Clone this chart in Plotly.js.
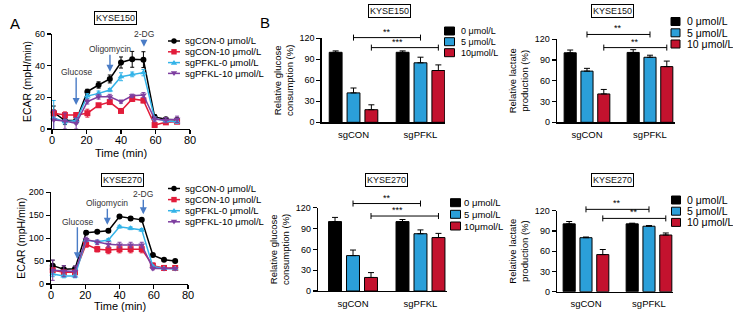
<!DOCTYPE html>
<html><head><meta charset="utf-8">
<script src="https://cdn.plot.ly/plotly-3.0.1.min.js"></script>
<style>html,body{margin:0;padding:0;background:#fff}#chart{width:733px;height:312px}</style>
</head><body><div id="chart"></div>
<script>
// ---------- DATA ----------
const timeMin = [1, 7.5, 14, 20.5, 27, 33.5, 40, 46.5, 53, 59.5, 66, 72.5];
const lineSeriesNames = ['sgCON-0 μmol/L', 'sgCON-10 μmol/L', 'sgPFKL-0 μmol/L', 'sgPFKL-10 μmol/L'];

// KYSE150 ECAR (mpH/min)
const k150_sgCON0   = [10.5, 5.3, 5.3, 23.6, 27.8, 31.6, 42.0, 44.0, 43.8, 7.6, 6.1, 5.7];
const k150_sgCON0e  = [4, 2.5, 2, 1.5, 2, 2.5, 3.5, 5, 5, 1.5, 1, 1];
const k150_sgCON10  = [10.0, 8.8, 8.8, 10.0, 15.0, 17.0, 11.4, 19.0, 18.0, 2.5, 4.2, 4.6];
const k150_sgCON10e = [2, 2, 1.5, 2.5, 1, 1.5, 1, 1.5, 1.5, 1, 1, 1];
const k150_sgPFKL0  = [7.0, 4.6, 5.3, 20.8, 22.5, 24.6, 33.0, 34.5, 35.6, 6.7, 5.0, 4.6];
const k150_sgPFKL0e = [11, 1.5, 1.5, 1.5, 1.5, 1, 2.5, 1.5, 2, 1, 1, 1];
const k150_sgPFKL10 = [5.7, 5.0, 3.6, 17.3, 20.4, 20.4, 17.3, 21.0, 21.5, 6.1, 5.7, 6.1];
const k150_sgPFKL10e= [6, 5, 3.6, 1.5, 1.5, 1.5, 1, 1, 1.5, 1.5, 1.5, 2];

// KYSE270 ECAR (mpH/min)
const k270_sgCON0   = [40, 32, 33, 112, 114, 116, 147, 143, 140, 63, 53, 50];
const k270_sgCON0e  = [12, 8, 6, 4, 3, 3, 3, 3, 3, 3, 2, 2];
const k270_sgCON10  = [30, 25.5, 25.5, 86.5, 76, 74, 76, 76, 76, 40, 35, 35];
const k270_sgCON10e = [5, 4, 4, 6, 6, 8, 8, 8, 8, 6, 4, 4];
const k270_sgPFKL0  = [22, 17.5, 17.5, 96, 92, 96, 125, 121.5, 118, 38, 34, 33];
const k270_sgPFKL0e = [6, 4, 4, 3, 3, 3, 3, 3, 3, 3, 2, 2];
const k270_sgPFKL10 = [30, 28, 27, 97, 91, 86.5, 85, 85, 85, 34, 34, 34];
const k270_sgPFKL10e= [22, 12, 12, 5, 5, 6, 6, 6, 6, 3, 2, 2];

// Treatment markers (time, label)
const treatTimes150 = [14, 33.6, 53.3];
const treatTimes270 = [15.4, 32.9, 53.9];
const treatLabels = ['Glucose', 'Oligomycin', '2-DG'];

// Bar charts
const groups = ['sgCON', 'sgPFKL'];
const doseLabelsGlucose = ['0 μmol/L', '5 μmol/L', '10μmol/L'];
const doseLabelsLactate = ['0 μmol/L', '5 μmol/L', '10 μmol/L'];

const glu150_0 = [100, 100],  glu150_0e = [2, 2];
const glu150_5 = [42, 85],    glu150_5e = [7, 8];
const glu150_10 = [18, 74],   glu150_10e = [7, 8];
const lac150_0 = [100.5, 101], lac150_0e = [4, 4];
const lac150_5 = [74, 94],    lac150_5e = [4, 3];
const lac150_10 = [41, 80.5], lac150_10e = [6.5, 8];
const glu270_0 = [100, 100],  glu270_0e = [6, 3];
const glu270_5 = [51, 82.5],  glu270_5e = [8, 5.5];
const glu270_10 = [19.5, 77], glu270_10e = [7, 6];
const lac270_0 = [100.5, 100.5], lac270_0e = [3.5, 1];
const lac270_5 = [80, 97],    lac270_5e = [1, 1];
const lac270_10 = [55, 84],   lac270_10e = [7.5, 3];

// significance labels (5 μmol/L comparison, 10 μmol/L comparison)
const sigGlu150 = ['**', '***'];
const sigLac150 = ['**', '**'];
const sigGlu270 = ['**', '***'];
const sigLac270 = ['**', '**'];

// ---------- STYLE / LAYOUT ----------
const W = 733, H = 312;
const FONT = '"Liberation Sans", Arial, sans-serif';
const px = x => x / W;
const py = y => 1 - y / H;
const lineColors = ['#000000', '#e21c3a', '#33b3e8', '#7e3fa0'];
const lineSymbols = ['circle', 'square', 'triangle-up', 'triangle-down'];
const barColors = ['#000000', '#2b9fd9', '#c3122e'];
const arrowColor = '#4a7cc6';

const traces = [];
const shapes = [];
const annotations = [];

function addLinePanel(xa, ya, series, errs) {
  series.forEach((s, i) => {
    traces.push({
      type: 'scatter', mode: 'lines+markers', x: timeMin, y: s,
      xaxis: xa, yaxis: ya, cliponaxis: false, showlegend: false,
      name: lineSeriesNames[i],
      line: {color: lineColors[i], width: 1.5},
      marker: {color: lineColors[i], symbol: lineSymbols[i], size: 6},
      error_y: {type: 'data', array: errs[i], color: lineColors[i], thickness: 1, width: 2}
    });
  });
}
addLinePanel('x', 'y', [k150_sgCON0, k150_sgCON10, k150_sgPFKL0, k150_sgPFKL10],
  [k150_sgCON0e, k150_sgCON10e, k150_sgPFKL0e, k150_sgPFKL10e]);
addLinePanel('x2', 'y2', [k270_sgCON0, k270_sgCON10, k270_sgPFKL0, k270_sgPFKL10],
  [k270_sgCON0e, k270_sgCON10e, k270_sgPFKL0e, k270_sgPFKL10e]);

// treatment arrows: [tip y, label y] in data units
function addArrows(xa, ya, times, tips, labs) {
  times.forEach((t, i) => {
    annotations.push({
      xref: xa, yref: ya, axref: xa, ayref: ya,
      x: t, y: tips[i], ax: t, ay: labs[i], text: treatLabels[i],
      showarrow: true, arrowhead: 2, arrowsize: 1, arrowwidth: 1.4, arrowcolor: arrowColor,
      font: {family: FONT, size: 8.5, color: '#333'}, borderpad: 0
    });
  });
}
addArrows('x', 'y', treatTimes150, [15.2, 36.2, 52], [36, 50.3, 59.8]);
addArrows('x2', 'y2', treatTimes270, [54, 129, 152], [136, 176, 195.6]);

// bar panels
const BG = 0.2, BGG = 0.28;
const slot = (1 - BG) / 3;
const panels = [
  {xa: 'x3', ya: 'y3', xr: [-0.475, 1.366], hpx: 84, data: [[glu150_0, glu150_0e], [glu150_5, glu150_5e], [glu150_10, glu150_10e]], sig: sigGlu150, sigY: [121, 106.7], names: doseLabelsGlucose},
  {xa: 'x4', ya: 'y4', xr: [-0.476, 1.397], hpx: 83, data: [[lac150_0, lac150_0e], [lac150_5, lac150_5e], [lac150_10, lac150_10e]], sig: sigLac150, sigY: [127, 108], names: doseLabelsLactate},
  {xa: 'x5', ya: 'y5', xr: [-0.519, 1.393], hpx: 83, data: [[glu270_0, glu270_0e], [glu270_5, glu270_5e], [glu270_10, glu270_10e]], sig: sigGlu270, sigY: [126, 108], names: doseLabelsGlucose},
  {xa: 'x6', ya: 'y6', xr: [-0.46, 1.381], hpx: 81, data: [[lac270_0, lac270_0e], [lac270_5, lac270_5e], [lac270_10, lac270_10e]], sig: sigLac270, sigY: [122, 108.6], names: doseLabelsLactate}
];
panels.forEach(p => {
  p.data.forEach((d, i) => {
    traces.push({
      type: 'bar', x: [0, 1], y: d[0], xaxis: p.xa, yaxis: p.ya, showlegend: false,
      name: p.names[i],
      marker: {color: barColors[i], line: {color: '#000', width: 1}},
      error_y: {type: 'data', symmetric: false, array: d[1], arrayminus: d[1].map(() => 0), color: '#000', thickness: 1, width: 3}
    });
  });
  const fx = v => (v - p.xr[0]) / (p.xr[1] - p.xr[0]);
  const fy = v => v / 120;
  const cap = 3 / p.hpx;
  const xd = p.xa + ' domain', yd = p.ya + ' domain';
  p.sig.forEach((lab, k) => {
    const off = k === 0 ? 0 : slot;
    const x0 = fx(0 + off), x1 = fx(1 + off), y = fy(p.sigY[k]);
    shapes.push({type: 'line', xref: xd, yref: yd, x0: x0, x1: x1, y0: y, y1: y, line: {color: '#000', width: 1}});
    shapes.push({type: 'line', xref: xd, yref: yd, x0: x0, x1: x0, y0: y - cap, y1: y + cap, line: {color: '#000', width: 1}});
    shapes.push({type: 'line', xref: xd, yref: yd, x0: x1, x1: x1, y0: y - cap, y1: y + cap, line: {color: '#000', width: 1}});
    annotations.push({xref: xd, yref: yd, x: (x0 + x1) / 2, y: y, yanchor: 'bottom', yshift: -1,
      text: lab, showarrow: false, font: {family: FONT, size: 9, color: '#000'}});
  });
});

// ---------- manual legends ----------
function lineLegend(x0, yList) {
  lineSeriesNames.forEach((n, i) => {
    const y = yList[i], c = lineColors[i];
    shapes.push({type: 'line', xref: 'paper', yref: 'paper', x0: px(x0), x1: px(x0 + 12), y0: py(y), y1: py(y), line: {color: c, width: 1.5}});
    const mx = x0 + 6, r = 2.7;
    if (i === 0) shapes.push({type: 'circle', xref: 'paper', yref: 'paper', x0: px(mx - r), x1: px(mx + r), y0: py(y - r), y1: py(y + r), fillcolor: c, line: {width: 0}});
    else if (i === 1) shapes.push({type: 'rect', xref: 'paper', yref: 'paper', x0: px(mx - r), x1: px(mx + r), y0: py(y - r), y1: py(y + r), fillcolor: c, line: {width: 0}});
    else {
      const d = i === 2 ? -1 : 1;
      shapes.push({type: 'path', xref: 'paper', yref: 'paper', fillcolor: c, line: {width: 0},
        path: `M${px(mx - r - 0.5)},${py(y - d * r * 0.8)} L${px(mx + r + 0.5)},${py(y - d * r * 0.8)} L${px(mx)},${py(y + d * r)} Z`});
    }
    annotations.push({xref: 'paper', yref: 'paper', x: px(x0 + 14.5), y: py(y), xanchor: 'left', yanchor: 'middle',
      text: n, showarrow: false, font: {family: FONT, size: 9.5, color: '#000'}});
  });
}
lineLegend(168, [41, 51.8, 62.6, 73.4]);
lineLegend(168, [188.5, 199.6, 210.7, 221.8]);

function barLegend(x0, sw, yList, labels, tx, fs) {
  labels.forEach((n, i) => {
    const y = yList[i];
    shapes.push({type: 'rect', xref: 'paper', yref: 'paper', x0: px(x0), x1: px(x0 + sw), y0: py(y - 4), y1: py(y + 4),
      fillcolor: barColors[i], line: {color: '#000', width: 1}});
    annotations.push({xref: 'paper', yref: 'paper', x: px(tx), y: py(y), xanchor: 'left', yanchor: 'middle',
      text: n, showarrow: false, borderpad: 0, font: {family: FONT, size: fs, color: '#000'}});
  });
}
barLegend(444.5, 10, [31, 41.7, 52.7], doseLabelsGlucose, 459.5, 9);
barLegend(671, 9, [21.5, 32.8, 44], doseLabelsLactate, 686, 10.5);
barLegend(450.5, 10, [202.7, 214.3, 226], doseLabelsGlucose, 462.5, 9.5);
barLegend(671.5, 9, [200, 211.2, 222.4], doseLabelsLactate, 686, 10.5);

// title boxes and panel letters
function box(text, cx, cy) {
  annotations.push({xref: 'paper', yref: 'paper', x: px(cx), y: py(cy), xanchor: 'center', yanchor: 'middle',
    text: text, showarrow: false, bordercolor: '#000', borderwidth: 1, borderpad: 1, bgcolor: '#fff',
    font: {family: FONT, size: 9, color: '#111'}});
}
box('KYSE150', 115, 17.7);
box('KYSE270', 122.5, 180.3);
box('KYSE150', 389.5, 10.7);
box('KYSE150', 612.5, 11);
box('KYSE270', 386, 180);
box('KYSE270', 612.5, 180);
annotations.push({xref: 'paper', yref: 'paper', x: px(8), y: py(13), text: 'A', showarrow: false,
  font: {family: FONT, size: 15, color: '#000'}});
annotations.push({xref: 'paper', yref: 'paper', x: px(265), y: py(12.5), text: 'B', showarrow: false,
  font: {family: FONT, size: 15, color: '#000'}});

// x-axis titles of the ECAR panels (placed just under the tick labels)
annotations.push({xref: 'x domain', yref: 'paper', x: 0.5, y: py(152.5), yanchor: 'middle', text: 'Time (min)',
  showarrow: false, borderpad: 0, font: {family: FONT, size: 11, color: '#000'}});
annotations.push({xref: 'x2 domain', yref: 'paper', x: 0.5, y: py(305.8), yanchor: 'middle', text: 'Time (min)',
  showarrow: false, borderpad: 0, font: {family: FONT, size: 11, color: '#000'}});

// axes
const axBase = {showline: true, linecolor: '#000', linewidth: 1.3, showgrid: false, zeroline: false,
  ticks: 'outside', ticklen: 4, tickwidth: 1.3, tickcolor: '#000', fixedrange: true};
function lineX(dom, anchor) {
  return Object.assign({}, axBase, {domain: dom, anchor: anchor, range: [0, 80], tickvals: [0, 20, 40, 60, 80],
    ticklabelstandoff: -4, tickfont: {family: FONT, size: 11, color: '#000'}});
}
function lineY(dom, anchor, rng, vals) {
  return Object.assign({}, axBase, {domain: dom, anchor: anchor, range: rng, tickvals: vals,
    tickfont: {family: FONT, size: 9, color: '#000'},
    title: {text: 'ECAR (mpH/min)', font: {family: FONT, size: 10.5, color: '#000'}, standoff: 1}});
}
function barX(dom, anchor, rng) {
  return Object.assign({}, axBase, {domain: dom, anchor: anchor, range: rng, tickvals: [0, 1], ticktext: groups,
    tickcolor: 'rgba(0,0,0,0)', ticklen: 3, tickfont: {family: FONT, size: 9.5, color: '#000'}});
}
function barY(dom, anchor, title) {
  return Object.assign({}, axBase, {domain: dom, anchor: anchor, range: [0, 120], tickvals: [0, 30, 60, 90, 120],
    tickfont: {family: FONT, size: 9, color: '#000'},
    title: {text: title, font: {family: FONT, size: 9.5, color: '#000'}, standoff: 4}});
}
const gluTitle = 'Relative glucose<br>consumption (%)';
const lacTitle = 'Relative lactate<br>production (%)';

const layout = {
  width: W, height: H, margin: {l: 0, r: 0, t: 0, b: 0}, paper_bgcolor: '#fff', plot_bgcolor: 'rgba(0,0,0,0)',
  showlegend: false, barmode: 'group', bargap: BG, bargroupgap: BGG,
  font: {family: FONT, color: '#000'},
  xaxis: lineX([px(52), px(190)], 'y'),
  yaxis: lineY([py(129), py(34)], 'x', [0, 60], [0, 20, 40, 60]),
  xaxis2: lineX([px(51), px(188)], 'y2'),
  yaxis2: lineY([py(284), py(192.3)], 'x2', [0, 200], [0, 50, 100, 150, 200]),
  xaxis3: barX([px(321.7), px(445)], 'y3', panels[0].xr),
  yaxis3: barY([py(122.3), py(38.3)], 'x3', gluTitle),
  xaxis4: barX([px(557), px(675)], 'y4', panels[1].xr),
  yaxis4: barY([py(122.3), py(39.3)], 'x4', lacTitle),
  xaxis5: barX([px(318), px(447)], 'y5', panels[2].xr),
  yaxis5: barY([py(291), py(207.7)], 'x5', gluTitle),
  xaxis6: barX([px(557), px(673)], 'y6', panels[3].xr),
  yaxis6: barY([py(291.7), py(210.7)], 'x6', lacTitle),
  shapes: shapes, annotations: annotations
};

Plotly.newPlot('chart', traces, layout, {staticPlot: true, displayModeBar: false});
</script></body></html>
